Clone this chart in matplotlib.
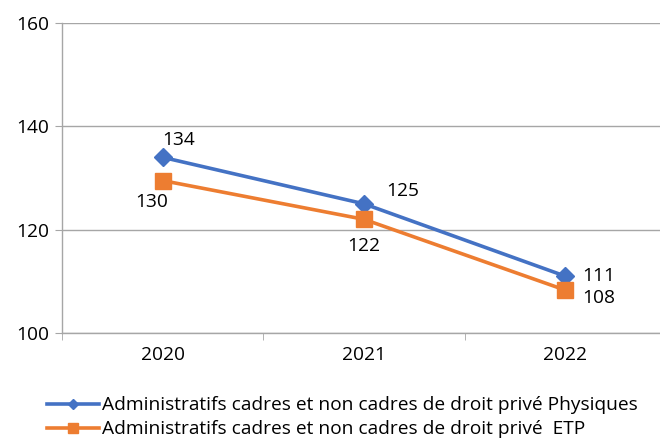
import matplotlib.pyplot as plt
import numpy as np

plt.rcParams['font.family'] = ['Open Sans', 'DejaVu Sans']

years = ['2020', '2021', '2022']
physiques = [134, 125, 111]
etp = [129.5, 122, 108.3]
labels = ['Administratifs cadres et non cadres de droit privé Physiques',
          'Administratifs cadres et non cadres de droit privé  ETP']

blue = '#4472C4'
orange = '#ED7D31'
grid = '#A6A6A6'
fs = 13.8

fig = plt.figure(figsize=(6.6, 4.38), dpi=100)
ax = fig.add_axes([62 / 660, 1 - 333 / 438, 604 / 660, 310 / 438])

x = np.arange(len(years))
ax.plot(x, physiques, color=blue, lw=2.6, marker='D', ms=9, label=labels[0])
ax.plot(x, etp, color=orange, lw=2.6, marker='s', ms=11, label=labels[1])

# value labels, offsets in pixels from each point
blue_off = [(16, 17), (39, 13), (33, 0)]
orange_off = [(-11, -21), (0, -27), (33, -8)]
for i in range(len(years)):
    ax.annotate(f'{physiques[i]:.0f}', (x[i], physiques[i]), xytext=blue_off[i],
                textcoords='offset pixels', ha='center', va='center', fontsize=fs)
    ax.annotate(f'{etp[i]:.0f}', (x[i], etp[i]), xytext=orange_off[i],
                textcoords='offset pixels', ha='center', va='center', fontsize=fs)

ax.set_xlim(-0.5, 2.5)
ax.set_ylim(100, 160)
ax.set_yticks([100, 120, 140, 160])
ax.set_xticks(x)
ax.set_xticklabels(years)
ax.set_xticks([-0.5, 0.5, 1.5, 2.5], minor=True)
ax.tick_params(axis='x', which='major', length=0, pad=9, labelsize=fs)
ax.tick_params(axis='x', which='minor', length=5, color=grid)
ax.tick_params(axis='y', length=5, color=grid, pad=4, labelsize=fs)
ax.yaxis.grid(True, color=grid, lw=1)
ax.set_axisbelow(True)
for s in ['top', 'right']:
    ax.spines[s].set_visible(False)
for s in ['left', 'bottom']:
    ax.spines[s].set_color(grid)
    ax.spines[s].set_linewidth(1)

fig.legend(loc='lower left', bbox_to_anchor=(39 / 660, -0.018), frameon=False,
           fontsize=fs, handlelength=2.75, handletextpad=0.12, labelspacing=0.3,
           borderaxespad=0, markerscale=0.6)

fig.savefig('out.png', dpi=100)
